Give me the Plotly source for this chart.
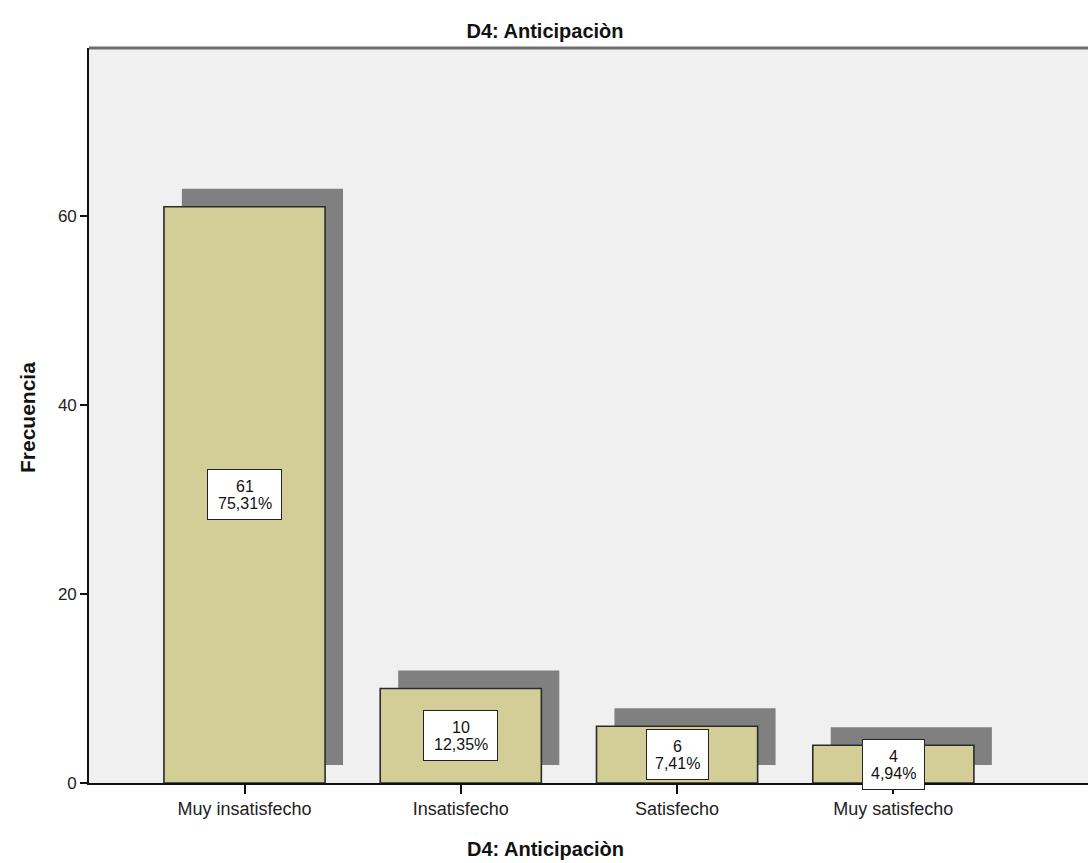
import plotly.graph_objects as go

# Frequency table for "D4: Anticipaciòn"
categories = ["Muy insatisfecho", "Insatisfecho", "Satisfecho", "Muy satisfecho"]
counts = [61, 10, 6, 4]
y_ticks = [0, 20, 40, 60]

title_text = "D4: Anticipaciòn"
y_title = "Frecuencia"

BAR_FILL = "#d3ce97"
SHADOW = "#808080"
OUTLINE = "#2b2b2b"
FONT = "Liberation Sans, Arial, sans-serif"

total = sum(counts)
pct_labels = [f"{c / total * 100:.2f}%".replace(".", ",") for c in counts]
xs = list(range(len(categories)))

bar_w = 0.745
shadow_dx = 0.083
shadow_dy = 1.9

fig = go.Figure()

# drop shadow behind each bar
fig.add_trace(go.Bar(
    x=[x + shadow_dx for x in xs], y=counts, base=shadow_dy, width=bar_w,
    marker=dict(color=SHADOW, line=dict(width=0)),
    hoverinfo="skip", showlegend=False,
))

# main bars
fig.add_trace(go.Bar(
    x=xs, y=counts, width=bar_w,
    marker=dict(color=BAR_FILL, line=dict(color=OUTLINE, width=1.6)),
    showlegend=False,
))

label_font = dict(family=FONT, size=16, color="#111111")
annotations = []
for x, c, p in zip(xs, counts, pct_labels):
    # white label box, then count and percentage lines inside it
    annotations.append(dict(
        x=x, y=c / 2, xref="x", yref="y", text=" ", showarrow=False,
        bgcolor="white", bordercolor="#222222", borderwidth=1, borderpad=0,
        width=12 * len(p) + 1, height=49,
        xanchor="center", yanchor="middle",
    ))
    annotations.append(dict(
        x=x, y=c / 2, xref="x", yref="y", text=str(c), showarrow=False,
        font=label_font, xanchor="center", yanchor="middle", yshift=8,
    ))
    annotations.append(dict(
        x=x, y=c / 2, xref="x", yref="y", text=p, showarrow=False,
        font=label_font, xanchor="center", yanchor="middle", yshift=-9,
    ))

# axis titles
annotations.append(dict(
    x=(545 - 89) / 999, y=-(849 - 783) / 735, xref="paper", yref="paper",
    text=f"<b>{title_text}</b>", showarrow=False,
    font=dict(family=FONT, size=20, color="#111111"),
    xanchor="center", yanchor="middle",
))
annotations.append(dict(
    x=(27 - 89) / 999, y=(783 - 418) / 735, xref="paper", yref="paper",
    text=f"<b>{y_title}</b>", showarrow=False, textangle=-90,
    font=dict(family=FONT, size=21, color="#111111"),
    xanchor="center", yanchor="middle",
))

fig.update_layout(
    width=1088, height=863,
    margin=dict(l=89, r=0, t=48, b=80),
    paper_bgcolor="white", plot_bgcolor="#f0f0f0",
    barmode="overlay",
    title=dict(text=f"<b>{title_text}</b>", x=545 / 1088, xref="container",
               y=1 - 31 / 863, yref="container", xanchor="center", yanchor="middle",
               font=dict(family=FONT, size=20, color="#111111")),
    annotations=annotations,
    shapes=[dict(type="line", xref="paper", yref="paper", x0=0, x1=1, y0=1, y1=1,
                 line=dict(color="#6e6e6e", width=3))],
    xaxis=dict(
        range=[-0.719, 3.900], tickmode="array", tickvals=xs, ticktext=categories,
        ticks="outside", ticklen=9, tickwidth=1.5, tickcolor="#111111",
        showline=True, linecolor="#111111", linewidth=1.6,
        showgrid=False, zeroline=False,
        tickfont=dict(family=FONT, size=18, color="#222222"),
    ),
    yaxis=dict(
        range=[0, 77.8], tickmode="array", tickvals=y_ticks,
        ticks="outside", ticklen=7, tickwidth=1.5, tickcolor="#111111",
        showline=True, linecolor="#111111", linewidth=1.6,
        showgrid=False, zeroline=False,
        tickfont=dict(family=FONT, size=17, color="#222222"),
    ),
)

fig.write_html("out.html")
